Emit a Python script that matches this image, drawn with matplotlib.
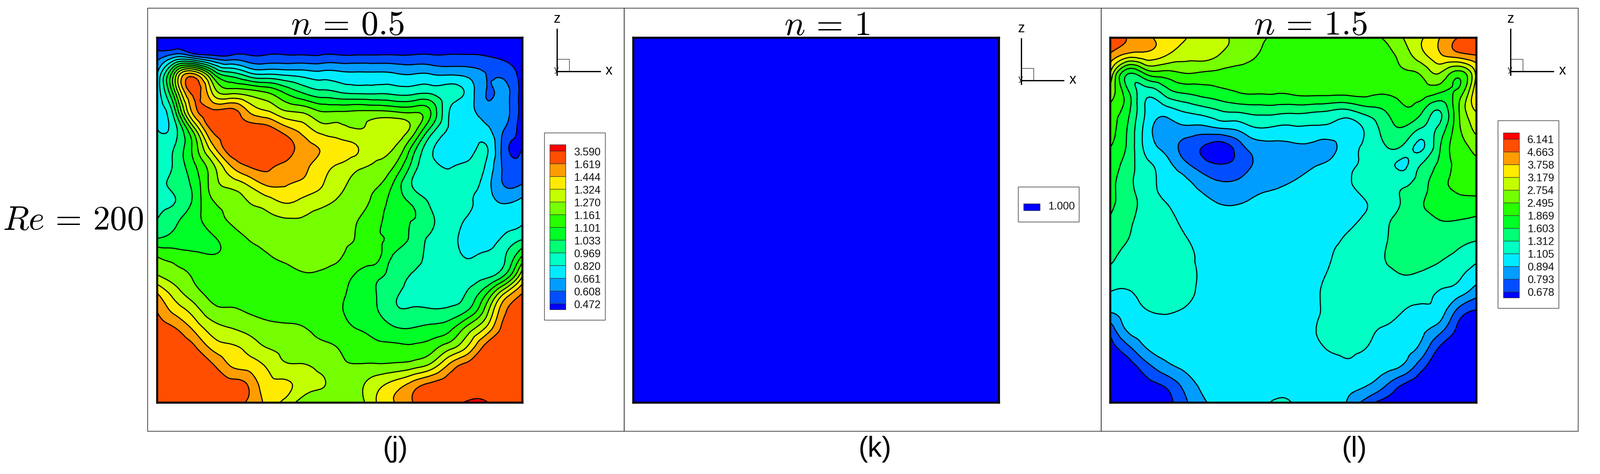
import numpy as np
import matplotlib
matplotlib.use('Agg')
import matplotlib.pyplot as plt
from matplotlib.patches import Rectangle
from matplotlib.colors import ListedColormap
from matplotlib.tri import Triangulation, UniformTriRefiner, CubicTriInterpolator

plt.rcParams['mathtext.fontset'] = 'cm'
plt.rcParams['font.family'] = ['Liberation Sans', 'DejaVu Sans']

# legend labels, top to bottom
labels_05 = ['3.590', '1.619', '1.444', '1.324', '1.270', '1.161', '1.101', '1.033', '0.969', '0.820', '0.661', '0.608', '0.472']
labels_15 = ['6.141', '4.663', '3.758', '3.179', '2.754', '2.495', '1.869', '1.603', '1.312', '1.105', '0.894', '0.793', '0.678']
label_1 = '1.000'

colors = ['#0000ff', '#004eff', '#009dff', '#00ebff', '#00ffc4', '#00ff75', '#00ff27',
          '#27ff00', '#76ff00', '#c4ff00', '#ffeb00', '#ff9d00', '#ff4e00', '#ff0000']

# fields, in legend band units (band k lies between k and k+1), rows from lid to floor
field_05 = [
    [.3]*21,
    [1.5,2.6,1.9,1.2,1.1,1.1,1.1,1.1,1.1,1.1,1.1,1.1,1.1,1.1,1.1,1.1,1.1,1.1,1.0,0.7,0.3],
    [3.0,8.5,11.2,7.5,5.5,4.4,4.0,3.8,3.6,3.4,3.3,3.2,3.2,3.1,3.0,3.0,2.9,2.7,2.0,1.8,0.4],
    [3.4,8.0,12.3,10.0,8.7,8.5,8.0,6.9,5.9,5.3,5.0,4.8,4.8,4.7,4.7,4.8,4.4,3.7,2.0,2.2,0.4],
    [3.7,6.0,11.5,12.2,12.3,10.9,10.0,9.0,8.7,7.9,7.9,8.0,8.0,7.8,7.7,6.9,4.0,3.3,2.4,2.3,0.5],
    [4.0,4.7,8.6,12.2,12.5,12.5,12.4,11.4,10.5,9.5,9.3,9.0,9.4,9.7,8.6,5.7,3.9,3.5,3.2,2.0,0.5],
    [4.2,5.1,7.3,10.6,12.5,12.6,12.6,12.5,11.5,10.9,10.4,10.0,9.2,9.0,6.7,4.2,3.4,3.3,4.1,1.5,1.0],
    [4.4,5.2,6.8,8.7,11.0,12.1,12.2,11.8,11.3,10.5,9.9,9.3,8.9,8.0,5.6,4.3,3.9,4.3,3.9,1.7,1.3],
    [4.6,5.3,6.3,8.4,9.4,10.2,11.2,11.1,10.8,10.1,9.3,8.6,8.2,6.8,4.9,4.5,4.1,4.3,3.5,1.9,2.0],
    [4.8,5.0,6.2,7.9,8.3,9.0,9.5,10.1,9.7,9.3,8.8,8.3,7.7,6.5,5.8,4.8,4.2,4.1,3.5,2.9,3.3],
    [5.0,5.8,6.6,7.5,8.1,8.5,8.8,8.9,8.9,8.6,8.3,8.0,7.4,6.3,6.0,5.2,4.4,3.9,3.4,3.5,3.9],
    [6.0,6.3,6.5,6.9,7.4,8.05,8.4,8.5,8.5,8.4,8.2,7.9,7.2,6.7,5.7,4.8,4.3,3.6,3.4,4.2,4.9],
    [8.0,7.6,7.3,7.05,7.2,7.5,7.9,8.2,8.3,8.3,8.1,7.5,7.3,5.8,5.4,4.6,4.3,3.95,4.2,4.9,7.2],
    [9.0,8.4,7.9,7.4,7.3,7.4,7.5,7.6,7.9,7.8,7.4,6.9,6.3,5.6,4.9,4.4,4.3,4.4,4.7,5.9,9.8],
    [11.0,9.5,8.4,7.7,7.4,7.3,7.3,7.2,7.2,7.1,7.1,6.7,6.0,5.2,4.6,4.2,4.4,5.1,6.8,9.9,12.0],
    [12.0,10.7,9.6,8.4,8.2,7.9,7.7,7.5,7.4,7.3,7.1,6.6,6.1,5.2,5.2,5.2,5.3,6.1,8.5,11.8,12.5],
    [12.5,12.1,10.9,9.6,9.1,8.7,8.3,8.3,8.1,7.7,7.4,7.0,6.7,6.2,6.1,6.3,6.8,8.5,10.3,12.4,12.5],
    [12.5,12.6,12.2,10.8,10.2,9.7,9.0,8.8,8.5,8.2,7.95,7.5,7.2,7.2,7.2,7.6,8.7,10.2,12.4,12.6,12.5],
    [12.5,12.6,12.6,12.2,11.0,10.6,9.9,9.2,9.1,8.7,8.2,8.1,8.2,8.3,8.6,9.4,11.3,12.4,12.6,12.6,12.5],
    [12.5,12.5,12.6,12.6,12.4,11.9,10.4,10.2,9.5,9.1,8.5,8.7,9.6,10.4,11.4,12.2,12.5,12.6,12.6,12.6,12.5],
    [12.5,12.5,12.5,12.5,12.5,11.8,10.8,9.7,8.5,8.1,8.2,8.5,10.0,11.0,12.0,12.5,12.7,13.1,13.05,12.5,12.5],
]

field_15 = [
    [12.6,11.9,11.2,10.6,10.1,9.6,9.2,8.8,8.3,7.8,7.5,7.4,7.4,7.5,7.8,8.1,9.0,9.9,11.0,12.0,12.6],
    [11.7,10.4,10.6,10.0,9.4,9.4,8.9,8.5,8.0,7.3,7.2,7.2,7.2,7.2,7.3,7.6,8.4,9.6,10.8,11.4,11.9],
    [9.8,5.9,7.1,7.5,7.9,7.8,7.7,7.6,7.5,7.4,7.4,7.4,7.4,7.4,7.4,7.5,7.8,8.1,8.9,7.4,10.2],
    [8.6,6.1,4.4,5.4,6.1,6.4,6.7,7.0,7.1,7.1,7.2,7.3,7.3,7.3,7.3,7.1,7.3,7.4,7.05,7.3,10.9],
    [7.6,6.2,3.8,3.5,4.1,4.5,5.0,5.2,5.4,5.4,5.3,5.2,5.0,4.85,5.5,6.0,6.8,6.2,5.0,7.8,10.1],
    [7.4,5.8,3.5,2.5,2.7,2.6,2.9,3.2,3.9,3.8,3.8,3.8,3.7,3.5,4.2,5.4,5.9,4.9,5.3,7.7,9.3],
    [7.0,5.7,3.6,2.7,1.7,1.0,0.5,1.5,2.5,2.7,2.8,2.8,2.7,3.6,4.2,4.9,4.8,3.85,5.9,7.5,8.3],
    [6.7,5.4,4.3,3.4,2.4,1.5,1.1,1.4,2.2,2.5,2.6,2.9,3.3,3.9,4.2,4.4,3.85,5.1,6.2,7.4,7.8],
    [6.4,5.2,4.5,3.6,3.3,2.6,2.1,2.2,2.6,2.8,3.1,3.4,3.6,3.9,4.4,4.6,4.8,5.6,6.6,7.3,7.3],
    [6.2,5.4,4.6,4.0,3.6,3.3,2.9,2.9,3.2,3.4,3.6,3.6,3.7,3.8,4.0,4.5,5.1,5.9,6.4,6.7,6.8],
    [5.9,5.2,4.6,4.3,3.8,3.5,3.5,3.5,3.5,3.5,3.5,3.5,3.6,3.8,4.2,4.8,5.3,5.7,6.0,6.0,5.8],
    [5.6,5.0,4.5,4.4,4.1,3.7,3.6,3.5,3.5,3.5,3.5,3.6,3.8,4.1,4.4,4.9,5.4,5.6,5.6,5.3,5.1],
    [5.3,4.6,4.4,4.3,4.2,3.85,3.6,3.5,3.4,3.4,3.5,3.6,3.95,4.2,4.4,5.0,5.3,5.4,5.15,4.8,4.3],
    [4.6,4.4,4.3,4.3,4.2,3.9,3.6,3.5,3.4,3.4,3.5,3.7,4.1,4.4,4.6,4.8,5.0,4.9,4.6,4.2,3.5],
    [3.95,3.9,4.4,4.5,4.3,3.8,3.5,3.4,3.4,3.4,3.5,3.8,4.2,4.4,4.5,4.6,4.6,4.4,3.9,3.4,2.4],
    [3.1,3.5,3.95,4.1,3.9,3.6,3.4,3.4,3.4,3.4,3.5,3.8,4.2,4.4,4.4,4.3,4.0,3.7,3.5,1.7,0.9],
    [1.4,3.2,3.5,3.6,3.5,3.4,3.4,3.4,3.4,3.4,3.5,3.9,4.2,4.3,4.2,3.9,3.6,3.2,2.4,0.8,0.4],
    [0.6,1.8,3.05,3.3,3.4,3.4,3.4,3.4,3.4,3.4,3.5,3.7,4.1,4.2,4.0,3.5,3.3,2.7,0.9,0.4,0.3],
    [0.3,0.6,1.7,2.7,3.2,3.4,3.4,3.4,3.4,3.4,3.4,3.5,3.6,3.8,3.5,3.3,2.9,1.4,0.4,0.3,0.3],
    [0.3,0.3,0.7,1.2,2.3,3.2,3.5,3.5,3.55,3.6,3.6,3.5,3.4,3.3,3.1,2.2,1.0,0.4,0.3,0.3,0.3],
    [0.3,0.3,0.3,0.6,1.7,2.8,3.3,3.5,3.6,4.1,3.95,3.5,3.3,2.9,1.5,0.6,0.3,0.3,0.3,0.3,0.3],
]

W, H = 3523, 1043
fig = plt.figure(figsize=(W / 100, H / 100), dpi=100, facecolor='white')

over = fig.add_axes([0, 0, 1, 1], zorder=3)
over.set_xlim(0, W)
over.set_ylim(H, 0)
over.axis('off')
over.patch.set_alpha(0)


def add_panel(x0, x1, y0, y1):
    ax = fig.add_axes([x0 / W, 1 - y1 / H, (x1 - x0) / W, (y1 - y0) / H], zorder=2)
    ax.set_xlim(0, 1)
    ax.set_ylim(0, 1)
    ax.set_xticks([])
    ax.set_yticks([])
    for s in ax.spines.values():
        s.set_linewidth(3.2)
    return ax


def draw_field(ax, rows):
    z = np.array(rows)
    nrow, ncol = z.shape
    xx, yy = np.meshgrid(np.linspace(0, 1, ncol), np.linspace(1, 0, nrow))
    tri = Triangulation(xx.ravel(), yy.ravel())
    refiner = UniformTriRefiner(tri)
    interp = CubicTriInterpolator(tri, z.ravel(), kind='min_E')
    tri2, z2 = refiner.refine_field(z.ravel(), triinterpolator=interp, subdiv=3)
    lev = np.arange(0, 15)
    ax.tricontourf(tri2, np.clip(z2, 0.01, 13.99), levels=lev, cmap=ListedColormap(colors))
    ax.tricontour(tri2, z2, levels=lev[1:-1], colors='black', linewidths=1.7)


def draw_legend(bx0, by0, labels):
    over.add_patch(Rectangle((bx0, by0), 134, 412.6, fc='white', ec='#444444', lw=1))
    top = by0 + 26.6
    edges = [top, top + 14] + [top + 14 + 28 * (i + 1) for i in range(12)] + [top + 363]
    for i, c in enumerate(colors[::-1]):
        over.add_patch(Rectangle((bx0 + 12, edges[i]), 35, edges[i + 1] - edges[i], fc=c, ec='#333333', lw=0.8))
    for i, t in enumerate(labels):
        over.text(bx0 + 64.5, edges[i + 1] + 3.5, t, fontsize=17, va='center', ha='left', color='#111111')


def draw_triad(xv, ytop, ybot, xend):
    over.plot([xv, xv], [ytop, ybot + 8], color='black', lw=2)
    over.plot([xv, xend], [ybot, ybot], color='black', lw=2)
    over.add_patch(Rectangle((xv, ybot - 27.5), 27, 27.5, fc='none', ec='#333333', lw=0.9))
    over.text(xv, ytop - 22, 'z', fontsize=22, ha='center', va='center')
    over.text(xend + 20, ybot - 1, 'x', fontsize=22, ha='center', va='center')
    over.text(xv - 1, ybot - 3, 'y', fontsize=14, ha='center', va='center', color='#222222', zorder=0)


# panel frames
over.add_patch(Rectangle((325.5, 18), 1049, 931, fc='none', ec='#444444', lw=1.2))
over.add_patch(Rectangle((1374.5, 18), 1049.5, 931, fc='none', ec='#444444', lw=1.2))
over.add_patch(Rectangle((2424, 18), 1050, 931, fc='none', ec='#444444', lw=1.2))

ax1 = add_panel(345.7, 1150.3, 83, 885.5)
draw_field(ax1, field_05)

ax2 = add_panel(1394.5, 2199, 83, 885.5)
ax2.pcolormesh([0, 1], [0, 1], [[1.0]], cmap=ListedColormap([colors[0]]))

ax3 = add_panel(2444.3, 3249.6, 83, 885.5)
draw_field(ax3, field_15)

draw_legend(1198.3, 291.7, labels_05)
draw_legend(3297.3, 265.3, labels_15)

over.add_patch(Rectangle((2241.3, 410.7), 134, 77.6, fc='white', ec='#444444', lw=1))
over.add_patch(Rectangle((2253, 448.3), 35.7, 14.4, fc=colors[0], ec='#333333', lw=0.8))
over.text(2307, 455, label_1, fontsize=17, va='center', ha='left', color='#111111')

draw_triad(1226, 64, 157, 1320.7)
draw_triad(2248.3, 85, 177, 2341)
draw_triad(3325.3, 64, 157, 3419)

over.text(765, 76.5, r'$n\,=\,0.5$', fontsize=55, ha='center', va='baseline')
over.text(1820, 76.5, r'$n\,=\,1$', fontsize=55, ha='center', va='baseline')
over.text(2884.5, 76.5, r'$n\,=\,1.5$', fontsize=55, ha='center', va='baseline')
over.text(161, 505, r'$Re\,=\,200$', fontsize=54, ha='center', va='baseline')

over.text(870, 988, '(j)', fontsize=45, ha='center', va='center')
over.text(1926, 988, '(k)', fontsize=45, ha='center', va='center')
over.text(2981, 988, '(l)', fontsize=45, ha='center', va='center')

fig.savefig('out.png', dpi=100)
